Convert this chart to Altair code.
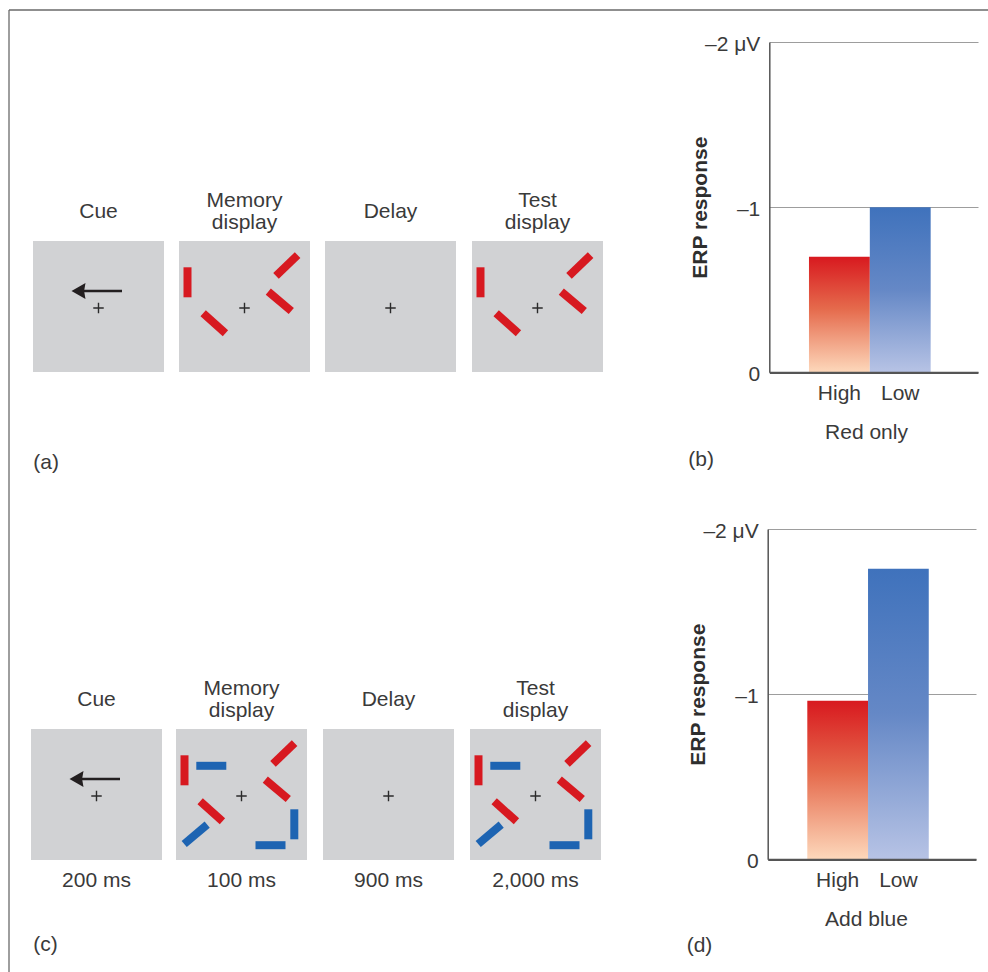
import math

import altair as alt
import pandas as pd

# ---------------- values ----------------
STAGES = ["Cue", "Memory\ndisplay", "Delay", "Test\ndisplay"]
DURATIONS = ["200 ms", "100 ms", "900 ms", "2,000 ms"]
LOADS = ["High", "Low"]
CONDITIONS = ["Red only", "Add blue"]
ERP_RED_ONLY = [-0.70, -1.00]   # microvolts
ERP_ADD_BLUE = [-0.96, -1.76]   # microvolts
PANEL_LETTERS = ["(a)", "(b)", "(c)", "(d)"]

# ---------------- layout & style ----------------
W, H = 988, 972
FONT = "Liberation Sans"
FS = 21
INK = "#3a3a3a"
AXIS = "#555555"
GRID = "#9d9d9d"
FRAME = "#6a6a6a"
SCREEN = "#d1d2d4"
RED = "#d71920"
BLUE = "#1d64b2"

SQ = 131          # display size (px)
LINE_GAP = 22     # spacing of two-line stage titles
BAR_LEN, BAR_W = 30, 8

# the two trial sequences (top: red only, bottom: red + blue)
ROWS = [
    dict(xs=[33, 179, 325, 472], top=241, blue=False, times=False),
    dict(xs=[31, 176, 323, 470], top=729, blue=True, times=True),
]
# oriented bars inside a display: (x, y, orientation in degrees), px from the display's corner
RED_BARS = [(8.5, 41.3, 90), (35.3, 82.3, -42), (107.8, 24.5, 44), (100.8, 60.3, -40)]
BLUE_BARS = [(35.3, 36.8, 0), (19.7, 105.3, 40), (118.3, 95.3, 90), (94.5, 116.2, 0)]
FIX = (65.5, 67)              # fixation cross inside a display
ARROW = (38.5, 89, 50)        # cue arrow: tip x, tail x, y

ERP_LAYOUT = [
    dict(axis_x=769.3, x_end=978, y_top=42, y_zero=372.3),
    dict(axis_x=767.7, x_end=976, y_top=529, y_zero=859.3),
]
LETTER_POS = [(33.3, 469), (688.3, 465.7), (33.3, 951), (686.7, 952.4)]

px_x = alt.Scale(domain=[0, W], range=[0, W], nice=False, zero=False)
px_y = alt.Scale(domain=[0, H], range=[0, H], nice=False, zero=False)


def PX(field="x"):
    return alt.X(f"{field}:Q", scale=px_x, axis=None)


def PY(field="y"):
    return alt.Y(f"{field}:Q", scale=px_y, axis=None)


# ---------------- trial sequence drawings ----------------
screens, titles, times, crosses, bars, shafts, heads = [], [], [], [], [], [], []
for row in ROWS:
    top = row["top"]
    for i, x0 in enumerate(row["xs"]):
        screens.append(dict(x=x0, x2=x0 + SQ, y=top, y2=top + SQ))
        cx = x0 + SQ / 2
        lines = STAGES[i].split("\n")
        for k, line in enumerate(lines):
            base = top - 23 + (k - (len(lines) - 1) / 2) * LINE_GAP
            titles.append(dict(x=cx, y=base, text=line))
        if row["times"]:
            times.append(dict(x=cx, y=top + SQ + 27.3, text=DURATIONS[i]))
        crosses.append(dict(x=x0 + FIX[0], y=top + FIX[1]))
        if i in (1, 3):
            items = [(RED, b) for b in RED_BARS]
            if row["blue"]:
                items += [(BLUE, b) for b in BLUE_BARS]
            for colour, (bx, by, ang) in items:
                dx = math.cos(math.radians(ang)) * BAR_LEN / 2
                dy = math.sin(math.radians(ang)) * BAR_LEN / 2
                bars.append(dict(x=x0 + bx - dx, y=top + by + dy,
                                 x2=x0 + bx + dx, y2=top + by - dy, c=colour))
        if i == 0:
            shafts.append(dict(x=x0 + ARROW[0] + 10, x2=x0 + ARROW[1],
                               y=top + ARROW[2], y2=top + ARROW[2]))
            heads.append(dict(x=x0 + ARROW[0] + 7, y=top + ARROW[2]))

letters = [dict(x=p[0], y=p[1], text=t) for t, p in zip(PANEL_LETTERS, LETTER_POS)]
frame = [dict(x=9, x2=W, y=10, y2=10), dict(x=9, x2=9, y=10, y2=H)]

frame_layer = alt.Chart(pd.DataFrame(frame)).mark_rule(
    color=FRAME, strokeWidth=1.3).encode(x=PX(), x2="x2:Q", y=PY(), y2="y2:Q")
screen_layer = alt.Chart(pd.DataFrame(screens)).mark_rect(color=SCREEN).encode(
    x=PX(), x2="x2:Q", y=PY(), y2="y2:Q")
bar_layer = alt.Chart(pd.DataFrame(bars)).mark_rule(
    strokeWidth=BAR_W, strokeCap="butt").encode(
    x=PX(), x2="x2:Q", y=PY(), y2="y2:Q",
    color=alt.Color("c:N", scale=None, legend=None))
cross_layer = alt.Chart(pd.DataFrame(crosses)).mark_point(
    shape="M-1,0L1,0M0,-1L0,1", size=110, filled=False, color="#2b2b2b",
    strokeWidth=1.4, opacity=1).encode(x=PX(), y=PY())
shaft_layer = alt.Chart(pd.DataFrame(shafts)).mark_rule(
    color="#231f20", strokeWidth=2.6).encode(x=PX(), x2="x2:Q", y=PY(), y2="y2:Q")
head_layer = alt.Chart(pd.DataFrame(heads)).mark_point(
    shape="M-0.875,0L0.875,-1L0.7,0L0.875,1Z", size=256, filled=True,
    color="#231f20", opacity=1, strokeWidth=0).encode(x=PX(), y=PY())


def text_layer(rows, align="center"):
    return alt.Chart(pd.DataFrame(rows)).mark_text(
        font=FONT, fontSize=FS, color=INK, align=align, baseline="alphabetic"
    ).encode(x=PX(), y=PY(), text="text:N")


sequence = alt.layer(
    frame_layer, screen_layer, bar_layer, cross_layer, shaft_layer, head_layer,
    text_layer(titles), text_layer(times), text_layer(letters, align="left"),
)

# ---------------- ERP bar charts ----------------
def grad(stops):
    return alt.LinearGradient(
        gradient="linear", x1=0, x2=0, y1=0, y2=1,
        stops=[alt.GradientStop(color=c, offset=o) for o, c in stops])


FILLS = [
    grad([(0, "#d8191f"), (0.45, "#e56a4c"), (1, "#fdd8bb")]),
    grad([(0, "#3f72bc"), (0.5, "#6588c6"), (1, "#b7c3e5")]),
]


def erp_panel(values, condition, lay):
    df = pd.DataFrame({"load": LOADS, "erp": values})
    x = alt.X(
        "load:N", sort=LOADS,
        scale=alt.Scale(range=[lay["axis_x"], lay["x_end"]], paddingInner=0,
                        paddingOuter=0.715, align=0.456),
        axis=alt.Axis(
            orient="bottom", offset=lay["y_zero"] - H, ticks=False, tickSize=0,
            labelPadding=10, labelAngle=0, labelFont=FONT, labelFontSize=FS,
            labelColor=INK, domainColor=AXIS, domainWidth=2.2, grid=False, zindex=1,
            title=condition, titleFont=FONT, titleFontSize=FS, titleFontWeight="normal",
            titleColor=INK, titleX=866, titleY=66, titleAlign="center",
            titleBaseline="alphabetic"),
    )
    y = alt.Y(
        "erp:Q",
        scale=alt.Scale(domain=[-2, 0], range=[lay["y_top"], lay["y_zero"]],
                        nice=False, zero=False),
        axis=alt.Axis(
            orient="left", offset=-lay["axis_x"], values=[-2, -1, 0],
            labelExpr="datum.value == -2 ? '\u20132 \u03bcV' : datum.value == -1 ? '\u20131' : '0'",
            ticks=False, tickSize=0, labelPadding=9.5, labelOffset=2.5,
            labelFont=FONT, labelFontSize=FS, labelColor=INK,
            domainColor=AXIS, domainWidth=1.5, grid=True, gridColor=GRID, gridWidth=1.2,
            title="ERP response", titleFont=FONT, titleFontSize=21, titleFontWeight="bold",
            titleColor="#2e2e2e", titleAngle=270, titleX=-63,
            titleY=(lay["y_top"] + lay["y_zero"]) / 2, titleAlign="center",
            titleBaseline="alphabetic"),
    )
    layers = [
        alt.Chart(df).transform_filter(alt.datum.load == load)
        .mark_bar(color=fill, strokeWidth=0)
        .encode(x=x, y=y, y2=alt.datum(0))
        for load, fill in zip(LOADS, FILLS)
    ]
    return alt.layer(*layers)


chart = alt.layer(
    sequence,
    erp_panel(ERP_RED_ONLY, CONDITIONS[0], ERP_LAYOUT[0]),
    erp_panel(ERP_ADD_BLUE, CONDITIONS[1], ERP_LAYOUT[1]),
).resolve_scale(
    x="independent", y="independent"
).properties(
    width=W, height=H, autosize=alt.AutoSizeParams(type="none"), padding=0,
    background="white",
).configure_view(stroke=None)

chart.save("out.html", embed_options={"renderer": "svg", "actions": False})
